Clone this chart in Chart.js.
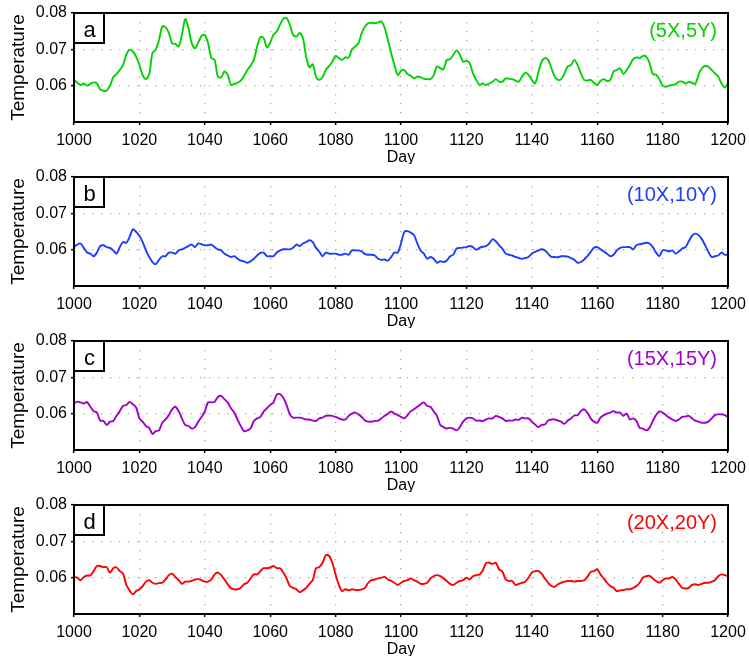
<!DOCTYPE html>
<html><head><meta charset="utf-8">
<script src="https://cdn.jsdelivr.net/npm/chart.js@4/dist/chart.umd.min.js"></script>
<style>
html,body{margin:0;padding:0;background:#fff;}
#wrap{position:relative;width:749px;height:657px;overflow:hidden;}
canvas{position:absolute;left:0;}
</style></head><body><div id="wrap">
<canvas id="c0" width="749" height="164" style="top:0px"></canvas>
<canvas id="c1" width="749" height="164" style="top:164px"></canvas>
<canvas id="c2" width="749" height="164" style="top:328px"></canvas>
<canvas id="c3" width="749" height="164" style="top:492px"></canvas>
</div>
<script>
const days = Array.from({length: 201}, (_, i) => 1000 + i);
const xTicks = [1000,1020,1040,1060,1080,1100,1120,1140,1160,1180,1200];
const yTicks = [0.06,0.07,0.08];
const panelLetters = ['a','b','c','d'];
const panelLabels = ['(5X,5Y)','(10X,10Y)','(15X,15Y)','(20X,20Y)'];
const lineColors = ['#00d200','#1e3cff','#a000c8','#ff0000'];

const tempA = [
0.0616,0.0608,0.0602,0.0606,0.0600,0.0605,0.0609,0.0606,0.0590,0.0586,
0.0586,0.0600,0.0623,0.0632,0.0643,0.0657,0.0685,0.0699,0.0694,0.0680,
0.0657,0.0629,0.0618,0.0632,0.0690,0.0699,0.0726,0.0763,0.0761,0.0745,
0.0717,0.0715,0.0708,0.0740,0.0783,0.0759,0.0717,0.0703,0.0719,0.0737,
0.0740,0.0717,0.0676,0.0671,0.0625,0.0623,0.0639,0.0630,0.0602,0.0605,
0.0608,0.0614,0.0627,0.0643,0.0655,0.0671,0.0708,0.0734,0.0731,0.0705,
0.0719,0.0740,0.0749,0.0768,0.0784,0.0786,0.0768,0.0740,0.0735,0.0745,
0.0731,0.0680,0.0650,0.0659,0.0625,0.0616,0.0623,0.0643,0.0654,0.0666,
0.0682,0.0676,0.0671,0.0678,0.0677,0.0700,0.0708,0.0717,0.0745,0.0763,
0.0772,0.0773,0.0772,0.0774,0.0777,0.0759,0.0726,0.0689,0.0657,0.0629,
0.0641,0.0643,0.0632,0.0627,0.0620,0.0625,0.0623,0.0619,0.0618,0.0618,
0.0629,0.0653,0.0648,0.0645,0.0671,0.0673,0.0685,0.0697,0.0685,0.0666,
0.0669,0.0662,0.0634,0.0616,0.0602,0.0606,0.0602,0.0606,0.0611,0.0618,
0.0611,0.0611,0.0620,0.0619,0.0618,0.0614,0.0611,0.0625,0.0636,0.0630,
0.0616,0.0606,0.0636,0.0666,0.0676,0.0671,0.0648,0.0625,0.0616,0.0618,
0.0634,0.0653,0.0657,0.0671,0.0657,0.0634,0.0616,0.0614,0.0616,0.0608,
0.0602,0.0613,0.0618,0.0613,0.0616,0.0639,0.0643,0.0648,0.0632,0.0643,
0.0657,0.0673,0.0678,0.0676,0.0682,0.0680,0.0662,0.0632,0.0630,0.0618,
0.0600,0.0597,0.0600,0.0602,0.0604,0.0611,0.0611,0.0606,0.0610,0.0608,
0.0605,0.0630,0.0648,0.0654,0.0652,0.0643,0.0634,0.0625,0.0606,0.0595,
0.0606];

const tempB = [
0.0607,0.0614,0.0617,0.0605,0.0592,0.0589,0.0582,0.0592,0.0610,0.0612,
0.0607,0.0605,0.0598,0.0589,0.0607,0.0621,0.0619,0.0635,0.0656,0.0649,
0.0638,0.0621,0.0598,0.0580,0.0566,0.0560,0.0572,0.0582,0.0582,0.0592,
0.0592,0.0589,0.0598,0.0601,0.0605,0.0610,0.0614,0.0607,0.0617,0.0615,
0.0612,0.0612,0.0614,0.0607,0.0601,0.0598,0.0589,0.0584,0.0580,0.0582,
0.0575,0.0570,0.0568,0.0564,0.0568,0.0575,0.0584,0.0591,0.0592,0.0582,
0.0582,0.0582,0.0592,0.0598,0.0601,0.0601,0.0601,0.0605,0.0614,0.0610,
0.0617,0.0621,0.0626,0.0621,0.0605,0.0595,0.0582,0.0592,0.0589,0.0589,
0.0589,0.0586,0.0586,0.0589,0.0586,0.0598,0.0598,0.0598,0.0595,0.0588,
0.0586,0.0586,0.0584,0.0575,0.0572,0.0573,0.0570,0.0580,0.0592,0.0592,
0.0617,0.0649,0.0651,0.0647,0.0640,0.0617,0.0598,0.0589,0.0575,0.0580,
0.0575,0.0564,0.0568,0.0566,0.0570,0.0582,0.0586,0.0603,0.0605,0.0606,
0.0607,0.0610,0.0607,0.0600,0.0605,0.0608,0.0610,0.0617,0.0629,0.0623,
0.0612,0.0603,0.0589,0.0586,0.0584,0.0580,0.0577,0.0575,0.0577,0.0580,
0.0589,0.0594,0.0598,0.0601,0.0598,0.0589,0.0580,0.0580,0.0579,0.0582,
0.0582,0.0581,0.0577,0.0572,0.0564,0.0566,0.0573,0.0582,0.0594,0.0605,
0.0607,0.0601,0.0595,0.0589,0.0582,0.0586,0.0598,0.0605,0.0607,0.0607,
0.0607,0.0601,0.0612,0.0615,0.0617,0.0619,0.0617,0.0607,0.0592,0.0582,
0.0598,0.0598,0.0595,0.0598,0.0589,0.0595,0.0603,0.0607,0.0623,0.0638,
0.0644,0.0640,0.0629,0.0612,0.0594,0.0580,0.0582,0.0584,0.0592,0.0586,
0.0586];

const tempC = [
0.0628,0.0633,0.0631,0.0628,0.0632,0.0619,0.0607,0.0603,0.0581,0.0580,
0.0569,0.0578,0.0580,0.0594,0.0607,0.0621,0.0624,0.0632,0.0626,0.0617,
0.0587,0.0578,0.0566,0.0561,0.0544,0.0552,0.0554,0.0575,0.0584,0.0596,
0.0612,0.0619,0.0607,0.0587,0.0569,0.0566,0.0559,0.0563,0.0578,0.0591,
0.0606,0.0631,0.0631,0.0633,0.0646,0.0649,0.0640,0.0631,0.0615,0.0603,
0.0584,0.0566,0.0552,0.0554,0.0559,0.0580,0.0587,0.0591,0.0606,0.0615,
0.0624,0.0631,0.0652,0.0654,0.0644,0.0624,0.0598,0.0589,0.0589,0.0589,
0.0587,0.0584,0.0584,0.0581,0.0580,0.0587,0.0589,0.0594,0.0595,0.0594,
0.0591,0.0587,0.0584,0.0584,0.0594,0.0600,0.0603,0.0598,0.0591,0.0581,
0.0578,0.0578,0.0580,0.0581,0.0587,0.0594,0.0600,0.0606,0.0600,0.0596,
0.0591,0.0587,0.0596,0.0607,0.0612,0.0619,0.0626,0.0631,0.0621,0.0619,
0.0606,0.0594,0.0569,0.0563,0.0559,0.0561,0.0559,0.0554,0.0563,0.0578,
0.0587,0.0589,0.0587,0.0581,0.0581,0.0580,0.0584,0.0587,0.0587,0.0594,
0.0591,0.0587,0.0580,0.0581,0.0581,0.0584,0.0583,0.0589,0.0587,0.0587,
0.0578,0.0570,0.0563,0.0569,0.0570,0.0581,0.0584,0.0584,0.0581,0.0578,
0.0572,0.0581,0.0587,0.0595,0.0596,0.0607,0.0612,0.0603,0.0587,0.0578,
0.0575,0.0589,0.0596,0.0600,0.0603,0.0607,0.0603,0.0603,0.0594,0.0600,
0.0584,0.0587,0.0580,0.0561,0.0559,0.0554,0.0561,0.0580,0.0596,0.0606,
0.0603,0.0596,0.0589,0.0584,0.0580,0.0584,0.0591,0.0592,0.0594,0.0587,
0.0581,0.0578,0.0575,0.0575,0.0578,0.0587,0.0596,0.0598,0.0598,0.0596,
0.0591];

const tempD = [
0.0602,0.0600,0.0593,0.0602,0.0606,0.0606,0.0618,0.0632,0.0632,0.0629,
0.0629,0.0614,0.0626,0.0628,0.0618,0.0611,0.0580,0.0565,0.0554,0.0563,
0.0568,0.0577,0.0589,0.0593,0.0586,0.0583,0.0585,0.0586,0.0595,0.0607,
0.0611,0.0602,0.0593,0.0583,0.0589,0.0589,0.0591,0.0595,0.0596,0.0593,
0.0589,0.0589,0.0595,0.0609,0.0614,0.0607,0.0595,0.0582,0.0571,0.0568,
0.0568,0.0572,0.0582,0.0586,0.0598,0.0609,0.0609,0.0618,0.0626,0.0626,
0.0628,0.0632,0.0626,0.0626,0.0614,0.0598,0.0577,0.0572,0.0568,0.0560,
0.0565,0.0572,0.0583,0.0593,0.0626,0.0629,0.0641,0.0662,0.0660,0.0641,
0.0609,0.0580,0.0563,0.0568,0.0565,0.0568,0.0566,0.0566,0.0568,0.0572,
0.0586,0.0593,0.0595,0.0598,0.0600,0.0602,0.0595,0.0591,0.0586,0.0580,
0.0586,0.0591,0.0593,0.0598,0.0593,0.0589,0.0583,0.0583,0.0586,0.0598,
0.0604,0.0607,0.0604,0.0598,0.0591,0.0583,0.0580,0.0586,0.0591,0.0593,
0.0600,0.0595,0.0604,0.0607,0.0609,0.0620,0.0640,0.0641,0.0638,0.0641,
0.0623,0.0617,0.0595,0.0591,0.0591,0.0580,0.0583,0.0586,0.0589,0.0600,
0.0614,0.0618,0.0618,0.0611,0.0598,0.0586,0.0577,0.0575,0.0582,0.0586,
0.0589,0.0591,0.0591,0.0589,0.0591,0.0591,0.0593,0.0602,0.0616,0.0618,
0.0623,0.0609,0.0598,0.0586,0.0577,0.0572,0.0563,0.0565,0.0566,0.0568,
0.0568,0.0572,0.0577,0.0586,0.0600,0.0604,0.0605,0.0598,0.0591,0.0586,
0.0593,0.0598,0.0598,0.0602,0.0595,0.0583,0.0572,0.0570,0.0572,0.0580,
0.0582,0.0580,0.0583,0.0586,0.0586,0.0589,0.0593,0.0604,0.0609,0.0607,
0.0604];

const seriesList = [tempA, tempB, tempC, tempD];
const FONT = "'Liberation Sans', Arial, sans-serif";

const panelPlugin = {
  id: 'panelDecor',
  afterDatasetsDraw(chart, args, opts) {
    const {ctx, chartArea: a} = chart;
    ctx.save();
    ctx.strokeStyle = '#000';
    ctx.lineWidth = 2;
    ctx.strokeRect(a.left, a.top, a.right - a.left, a.bottom - a.top);
    ctx.fillStyle = '#fff';
    ctx.fillRect(a.left, a.top, 30, 30);
    ctx.strokeRect(a.left, a.top, 30, 30);
    ctx.fillStyle = '#000';
    ctx.font = '22px ' + FONT;
    ctx.textAlign = 'center';
    ctx.textBaseline = 'alphabetic';
    ctx.fillText(opts.letter, a.left + 15.5, a.top + 23.5);
    ctx.fillStyle = opts.color;
    ctx.font = '20px ' + FONT;
    ctx.textAlign = 'right';
    ctx.textBaseline = 'middle';
    ctx.fillText(opts.label, a.right - 11, a.top + 18);
    ctx.restore();
  }
};

seriesList.forEach((vals, i) => {
  const ctx = document.getElementById('c' + i).getContext('2d');
  new Chart(ctx, {
    type: 'line',
    data: {
      labels: days,
      datasets: [{
        data: vals,
        borderColor: lineColors[i],
        borderWidth: 1.9,
        pointRadius: 0,
        tension: 0.3,
        fill: false
      }]
    },
    options: {
      responsive: false,
      animation: false,
      events: [],
      layout: {padding: {top: 13, right: 21, left: 0, bottom: 0}},
      plugins: {
        legend: {display: false},
        tooltip: {enabled: false},
        panelDecor: {letter: panelLetters[i], label: panelLabels[i], color: lineColors[i]}
      },
      scales: {
        x: {
          type: 'linear', min: 1000, max: 1200,
          afterBuildTicks: s => { s.ticks = xTicks.map(v => ({value: v})); },
          afterFit: s => { s.height = 42; s.paddingLeft = 0; s.paddingRight = 0; },
          ticks: {font: {family: FONT, size: 16}, color: '#000', padding: 6, maxRotation: 0, autoSkip: false,
                  callback: v => String(v)},
          grid: {
            color: c => (c.tick && (c.tick.value === 1000 || c.tick.value === 1200)) ? 'rgba(0,0,0,0)' : '#a8a8a8',
            lineWidth: 1.3, drawTicks: true, tickLength: 3, tickColor: '#000', tickWidth: 1.5, tickBorderDash: []
          },
          border: {display: false, dash: [1.3, 7.7]},
          title: {display: true, text: 'Day', font: {family: FONT, size: 16, lineHeight: 1}, color: '#000', padding: {top: 0, bottom: -2}}
        },
        y: {
          type: 'linear', min: 0.05, max: 0.08,
          afterBuildTicks: s => { s.ticks = yTicks.map(v => ({value: v})); },
          afterFit: s => { s.width = 74; s.paddingTop = 0; s.paddingBottom = 0; },
          ticks: {font: {family: FONT, size: 16}, color: '#000', padding: 4, callback: v => Number(v).toFixed(2)},
          grid: {
            color: c => (c.tick && Math.abs(c.tick.value - 0.08) < 1e-9) ? 'rgba(0,0,0,0)' : '#a8a8a8',
            lineWidth: 1.3, drawTicks: true, tickLength: 3, tickColor: '#000', tickWidth: 1.5, tickBorderDash: []
          },
          border: {display: false, dash: [1.3, 7.7]},
          title: {display: true, text: 'Temperature', font: {family: FONT, size: 19, lineHeight: 1}, color: '#000', padding: {top: 9, bottom: 0}}
        }
      }
    },
    plugins: [panelPlugin]
  });
});
</script>
</body></html>
